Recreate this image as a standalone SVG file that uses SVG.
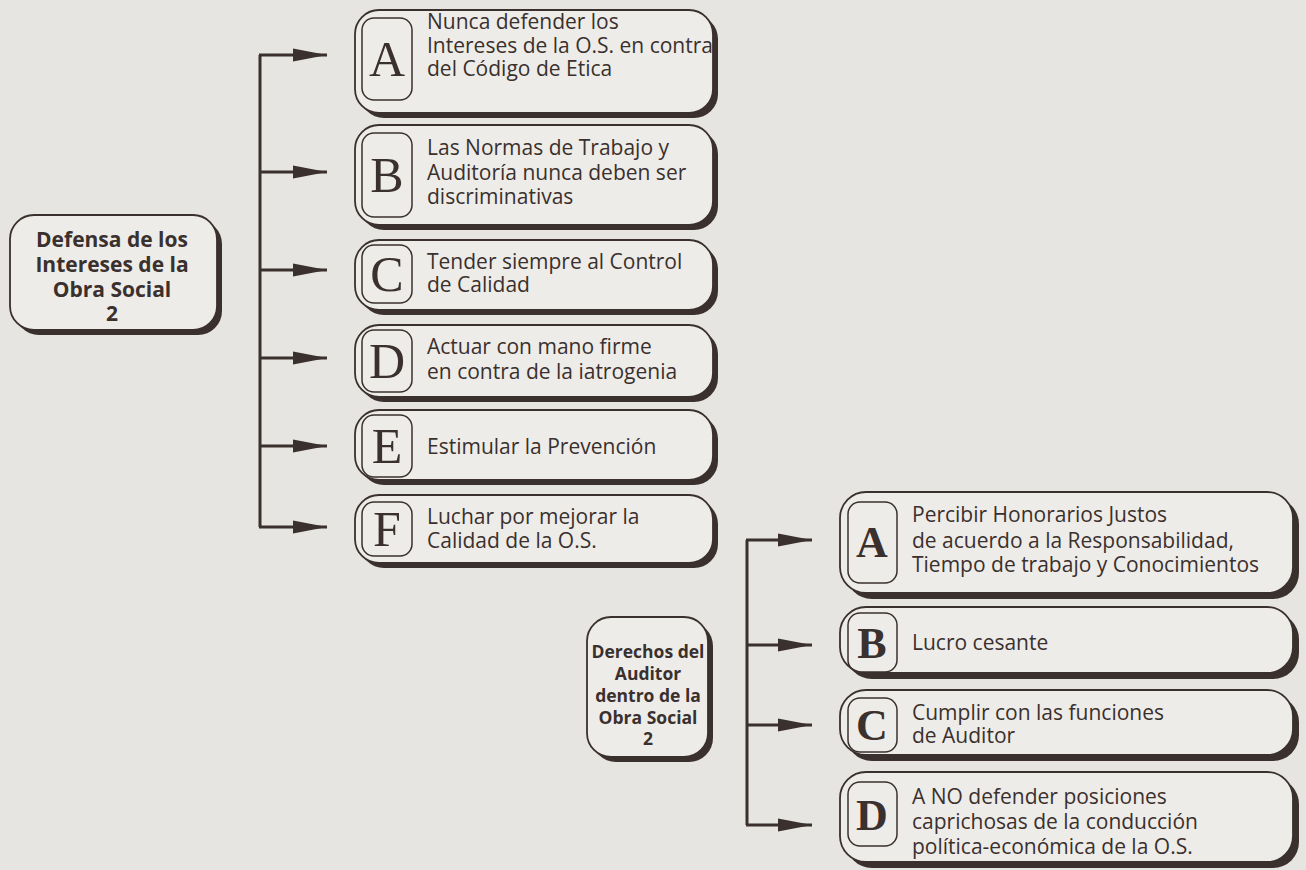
<svg xmlns="http://www.w3.org/2000/svg" width="1306" height="870" viewBox="0 0 1306 870">
<defs>
<style>
.bg{fill:#e7e5e2}
.sh{fill:#3a302d}
.bx{fill:#eeece9;stroke:#3a302d;stroke-width:1.8}
.lb{fill:none;stroke:#3a302d;stroke-width:1.5}
.t{font-family:"Open Sans","Liberation Sans",sans-serif;font-size:21px;fill:#3a302d}
.h{font-family:"Open Sans","Liberation Sans",sans-serif;font-size:21px;font-weight:bold;fill:#3a302d;text-anchor:middle}
.h2{font-family:"Open Sans","Liberation Sans",sans-serif;font-size:17.5px;font-weight:bold;fill:#3a302d;text-anchor:middle}
.L{font-family:"Liberation Serif",serif;font-size:50px;fill:#3a302d;text-anchor:middle}
.R{font-family:"Liberation Serif",serif;font-size:44px;font-weight:bold;fill:#3a302d;text-anchor:middle}
.ln{fill:none;stroke:#3a302d;stroke-width:3}
</style>
<marker id="ah" markerUnits="userSpaceOnUse" markerWidth="34" markerHeight="14" refX="34" refY="7" orient="auto">
<path d="M0,0.5 L34,7 L0,13.5 Z" fill="#3a302d"/>
</marker>
</defs>
<rect class="bg" x="0" y="0" width="1306" height="870"/>

<g id="connectors">
<path class="ln" d="M260,55 V527"/>
<path class="ln" d="M259,55 H327" marker-end="url(#ah)"/>
<path class="ln" d="M260,172 H327" marker-end="url(#ah)"/>
<path class="ln" d="M260,270 H327" marker-end="url(#ah)"/>
<path class="ln" d="M260,358 H327" marker-end="url(#ah)"/>
<path class="ln" d="M260,446 H327" marker-end="url(#ah)"/>
<path class="ln" d="M259,527 H327" marker-end="url(#ah)"/>
<path class="ln" d="M747,540 V825"/>
<path class="ln" d="M746,540 H812" marker-end="url(#ah)"/>
<path class="ln" d="M747,645 H812" marker-end="url(#ah)"/>
<path class="ln" d="M747,725 H812" marker-end="url(#ah)"/>
<path class="ln" d="M746,825 H812" marker-end="url(#ah)"/>
</g>

<g id="defensa">
<rect class="sh" x="15" y="220" width="207" height="115" rx="24"/>
<rect class="bx" x="10" y="215" width="207" height="115" rx="24"/>
<text class="h" x="112" y="247">Defensa de los</text>
<text class="h" x="112" y="272">Intereses de la</text>
<text class="h" x="112" y="297">Obra Social</text>
<text class="h" x="112" y="321">2</text>
</g>

<g id="left-A">
<rect class="sh" x="360" y="15" width="358" height="103" rx="24"/>
<rect class="bx" x="355" y="10" width="358" height="103" rx="24"/>
<rect class="lb" x="362" y="18" width="50" height="82" rx="12"/>
<text class="L" x="387" y="76">A</text>
<text class="t" x="427" y="29">Nunca defender los</text>
<text class="t" x="427" y="53">Intereses de la O.S. en contra</text>
<text class="t" x="427" y="76">del Código de Etica</text>
</g>

<g id="left-B">
<rect class="sh" x="360" y="130" width="358" height="100" rx="24"/>
<rect class="bx" x="355" y="125" width="358" height="100" rx="24"/>
<rect class="lb" x="362" y="133" width="50" height="84" rx="12"/>
<text class="L" x="387" y="192">B</text>
<text class="t" x="427" y="155">Las Normas de Trabajo y</text>
<text class="t" x="427" y="180">Auditoría nunca deben ser</text>
<text class="t" x="427" y="204">discriminativas</text>
</g>

<g id="left-C">
<rect class="sh" x="360" y="245" width="358" height="70" rx="24"/>
<rect class="bx" x="355" y="240" width="358" height="70" rx="24"/>
<rect class="lb" x="362" y="245" width="50" height="58" rx="12"/>
<text class="L" x="387" y="291">C</text>
<text class="t" x="427" y="269">Tender siempre al Control</text>
<text class="t" x="427" y="292">de Calidad</text>
</g>

<g id="left-D">
<rect class="sh" x="360" y="330" width="358" height="72" rx="24"/>
<rect class="bx" x="355" y="325" width="358" height="72" rx="24"/>
<rect class="lb" x="362" y="330" width="50" height="62" rx="12"/>
<text class="L" x="387" y="378">D</text>
<text class="t" x="427" y="354">Actuar con mano firme</text>
<text class="t" x="427" y="379">en contra de la iatrogenia</text>
</g>

<g id="left-E">
<rect class="sh" x="360" y="415" width="358" height="70" rx="24"/>
<rect class="bx" x="355" y="410" width="358" height="70" rx="24"/>
<rect class="lb" x="362" y="415" width="50" height="62" rx="12"/>
<text class="L" x="387" y="463">E</text>
<text class="t" x="427" y="454">Estimular la Prevención</text>
</g>

<g id="left-F">
<rect class="sh" x="360" y="500" width="358" height="68" rx="24"/>
<rect class="bx" x="355" y="495" width="358" height="68" rx="24"/>
<rect class="lb" x="362" y="502" width="50" height="54" rx="12"/>
<text class="L" x="387" y="546">F</text>
<text class="t" x="427" y="524">Luchar por mejorar la</text>
<text class="t" x="427" y="548">Calidad de la O.S.</text>
</g>

<g id="derechos">
<rect class="sh" x="592" y="622" width="121" height="140" rx="24"/>
<rect class="bx" x="587" y="617" width="121" height="140" rx="24"/>
<text class="h2" x="648" y="658">Derechos del</text>
<text class="h2" x="648" y="680">Auditor</text>
<text class="h2" x="648" y="702">dentro de la</text>
<text class="h2" x="648" y="724">Obra Social</text>
<text class="h2" x="648" y="745">2</text>
</g>

<g id="right-A">
<rect class="sh" x="846" y="498" width="453" height="101" rx="26"/>
<rect class="bx" x="840" y="492" width="453" height="101" rx="26"/>
<rect class="lb" x="848" y="502" width="49" height="81" rx="12"/>
<text class="R" x="872" y="557">A</text>
<text class="t" x="912" y="522">Percibir Honorarios Justos</text>
<text class="t" x="912" y="548">de acuerdo a la Responsabilidad,</text>
<text class="t" x="912" y="572">Tiempo de trabajo y Conocimientos</text>
</g>

<g id="right-B">
<rect class="sh" x="846" y="613" width="453" height="66" rx="26"/>
<rect class="bx" x="840" y="607" width="453" height="66" rx="26"/>
<rect class="lb" x="848" y="613" width="49" height="59" rx="12"/>
<text class="R" x="872" y="658">B</text>
<text class="t" x="912" y="650">Lucro cesante</text>
</g>

<g id="right-C">
<rect class="sh" x="846" y="696" width="453" height="65" rx="26"/>
<rect class="bx" x="840" y="690" width="453" height="65" rx="26"/>
<rect class="lb" x="848" y="698" width="49" height="54" rx="12"/>
<text class="R" x="872" y="740">C</text>
<text class="t" x="912" y="720">Cumplir con las funciones</text>
<text class="t" x="912" y="743">de Auditor</text>
</g>

<g id="right-D">
<rect class="sh" x="846" y="778" width="453" height="90" rx="26"/>
<rect class="bx" x="840" y="772" width="453" height="90" rx="26"/>
<rect class="lb" x="848" y="782" width="49" height="64" rx="12"/>
<text class="R" x="872" y="830">D</text>
<text class="t" x="912" y="804">A NO defender posiciones</text>
<text class="t" x="912" y="829">caprichosas de la conducción</text>
<text class="t" x="912" y="854">política-económica de la O.S.</text>
</g>
</svg>
